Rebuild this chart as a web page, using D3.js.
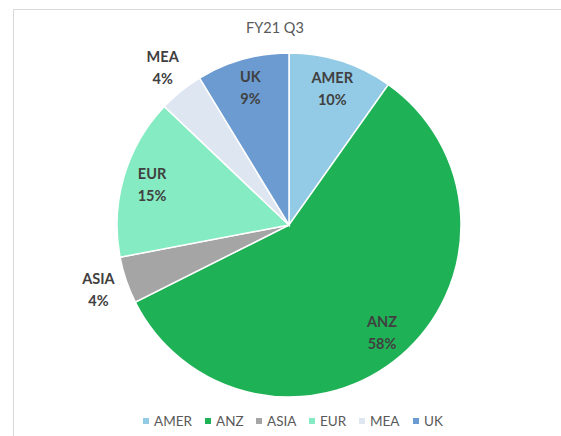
<!DOCTYPE html>
<html>
<head>
<meta charset="utf-8">
<script src="https://cdn.jsdelivr.net/npm/d3@7"></script>
<style>
  body { margin: 0; background: #fff; }
  text { font-family: Lato, "Open Sans", sans-serif; }
</style>
</head>
<body>
<div id="wrapper"></div>
<script>
const title = "FY21 Q3";
const categories = ["AMER", "ANZ", "ASIA", "EUR", "MEA", "UK"];
const values = [9.8, 57.8, 4.4, 15.1, 4.2, 8.7];
const colors = ["#93cae5", "#1fb155", "#a5a5a5", "#85ebc2", "#dde6f1", "#6b9bd1"];

function drawChart() {
  const width = 561;
  const height = 436;
  const cx = 289, cy = 225, radius = 172;

  const svg = d3.select("#wrapper")
    .append("svg")
    .attr("width", width)
    .attr("height", height);

  // chart frame (right/bottom edges fall outside the picture)
  svg.append("path")
    .attr("d", `M13.5,${height + 5} L13.5,9.5 L${width + 5},9.5`)
    .attr("fill", "none")
    .attr("stroke", "#d9d9d9")
    .attr("stroke-width", 1);

  svg.append("text")
    .attr("x", 275)
    .attr("y", 33)
    .attr("text-anchor", "middle")
    .attr("font-size", 14.5)
    .attr("fill", "#595959")
    .text(title);

  const data = categories.map((c, i) => ({ name: c, value: values[i] }));
  const total = d3.sum(values);

  const colScale = d3.scaleOrdinal()
    .domain(categories)
    .range(colors);

  const pie = d3.pie()
    .sort(null)
    .value(d => d.value);

  const arc = d3.arc()
    .innerRadius(0)
    .outerRadius(radius);

  const arcs = pie(data);

  const g = svg.append("g")
    .attr("transform", `translate(${cx},${cy})`);

  g.selectAll("path.slice")
    .data(arcs)
    .enter().append("path")
    .attr("class", "slice")
    .attr("d", arc)
    .attr("fill", d => colScale(d.data.name))
    .attr("stroke", "#fff")
    .attr("stroke-width", 1.5);

  // small slices get their label outside the pie
  const labelPos = function (d) {
    const r = d.data.value < 5 ? radius * 1.17 : radius * 0.83;
    const a = (d.startAngle + d.endAngle) / 2;
    return [Math.sin(a) * r, -Math.cos(a) * r];
  };

  const labels = g.selectAll("text.label")
    .data(arcs)
    .enter().append("text")
    .attr("class", "label")
    .attr("text-anchor", "middle")
    .attr("font-size", 14.5)
    .attr("font-weight", "bold")
    .attr("fill", "#404040")
    .attr("transform", d => `translate(${labelPos(d)})`);

  labels.append("tspan")
    .attr("x", 0)
    .attr("y", -6)
    .text(d => d.data.name);

  labels.append("tspan")
    .attr("x", 0)
    .attr("y", 16)
    .text(d => Math.round(d.data.value / total * 100) + "%");

  // legend
  const legendX = d3.scaleOrdinal()
    .domain(categories)
    .range([143, 205, 256, 309, 359, 413]);

  const legend = svg.selectAll("g.legend")
    .data(categories)
    .enter().append("g")
    .attr("class", "legend")
    .attr("transform", d => `translate(${legendX(d)},421)`);

  legend.append("rect")
    .attr("x", 0)
    .attr("y", -3)
    .attr("width", 6)
    .attr("height", 6)
    .attr("fill", d => colScale(d));

  legend.append("text")
    .attr("x", 11)
    .attr("y", 5)
    .attr("font-size", 13.5)
    .attr("fill", "#595959")
    .text(d => d);
}
drawChart();
</script>
</body>
</html>
